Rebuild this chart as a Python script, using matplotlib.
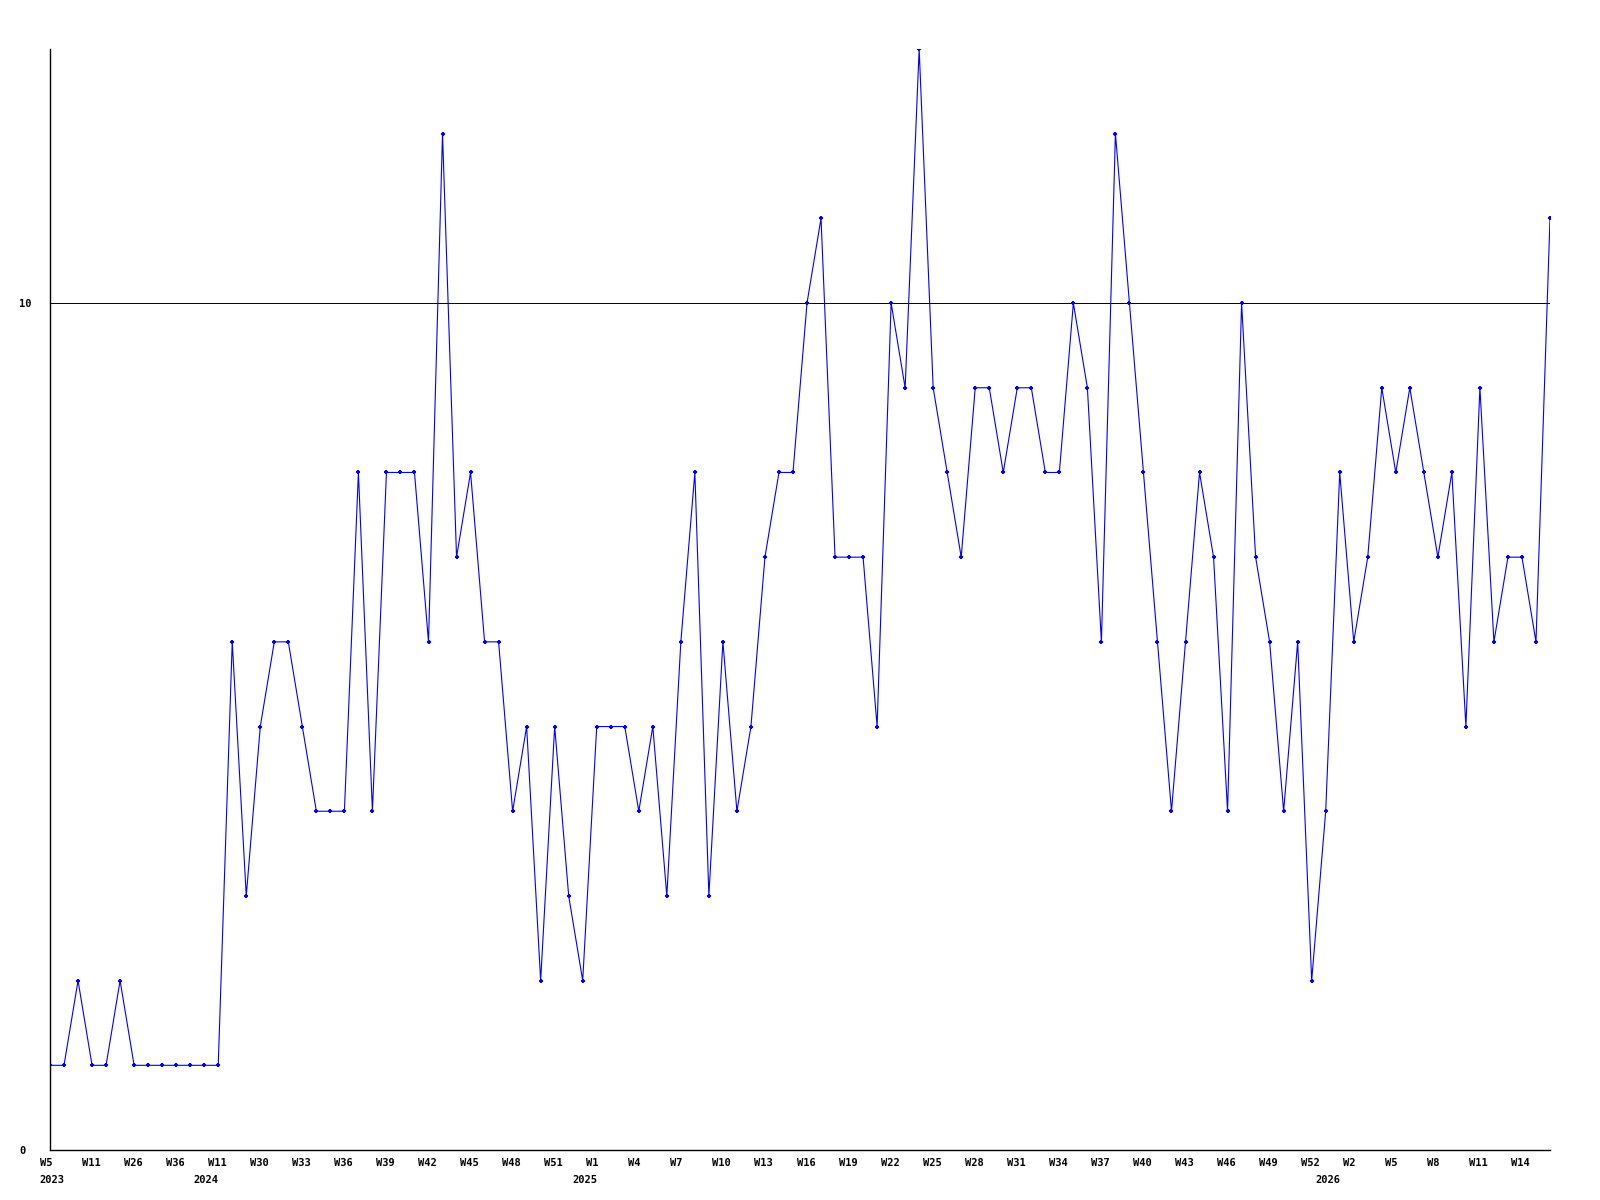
import numpy as np
import matplotlib.pyplot as plt
from matplotlib.transforms import ScaledTranslation

# weekly counts
values = [1, 1, 2, 1, 1, 2, 1, 1, 1, 1, 1, 1, 1, 6, 3, 5, 6, 6, 5, 4,
          4, 4, 8, 4, 8, 8, 8, 6, 12, 7, 8, 6, 6, 4, 5, 2, 5, 3, 2, 5,
          5, 5, 4, 5, 3, 6, 8, 3, 6, 4, 5, 7, 8, 8, 10, 11, 7, 7, 7, 5,
          10, 9, 13, 9, 8, 7, 9, 9, 8, 9, 9, 8, 8, 10, 9, 6, 12, 10, 8, 6,
          4, 6, 8, 7, 4, 10, 7, 6, 4, 6, 2, 4, 8, 6, 7, 9, 8, 9, 8, 7,
          8, 5, 9, 6, 7, 7, 6, 11]

week_labels = ['W5', 'W11', 'W26', 'W36', 'W11', 'W30', 'W33', 'W36', 'W39',
               'W42', 'W45', 'W48', 'W51', 'W1', 'W4', 'W7', 'W10', 'W13',
               'W16', 'W19', 'W22', 'W25', 'W28', 'W31', 'W34', 'W37', 'W40',
               'W43', 'W46', 'W49', 'W52', 'W2', 'W5', 'W8', 'W11', 'W14']

years = ['2023', '2024', '2025', '2026']
year_idx = [0, 11, 38, 91]

font = dict(family='DejaVu Sans Mono', weight='bold', size=7.5)

fig = plt.figure(figsize=(16, 12), dpi=100)
ax = fig.add_axes([50 / 1600, 50 / 1200, 1500 / 1600, 1101 / 1200])

x = np.arange(len(values))
ax.plot(x, values, color='#0000ff', lw=0.8, marker='+', ms=3.5, mew=1.5)

ax.set_xlim(0, len(values) - 1)
ax.set_ylim(0, 13)
for s in ['top', 'right']:
    ax.spines[s].set_visible(False)
for s in ['left', 'bottom']:
    ax.spines[s].set_color('black')
    ax.spines[s].set_linewidth(1)

ax.set_yticks([0, 10])
ax.grid(axis='y', color='black', lw=0.7)
ax.tick_params(length=0)
ax.tick_params(axis='y', pad=22.3)
ax.tick_params(axis='x', pad=6)
for lab in ax.get_yticklabels():
    lab.set_ha('left')
    lab.set_fontproperties(font)

ax.set_xticks(x[::3], week_labels)
shift = ScaledTranslation(-10.5 / 100, 0, fig.dpi_scale_trans)
for lab in ax.get_xticklabels():
    lab.set_ha('left')
    lab.set_fontproperties(font)
    lab.set_transform(lab.get_transform() + shift)

for yr, i in zip(years, year_idx):
    ax.annotate(yr, xy=(i, 0), xycoords=('data', 'axes fraction'),
                xytext=(-10.5 * 0.72, -18), textcoords='offset points',
                ha='left', va='top', **font)

fig.savefig('out.png', dpi=100)
